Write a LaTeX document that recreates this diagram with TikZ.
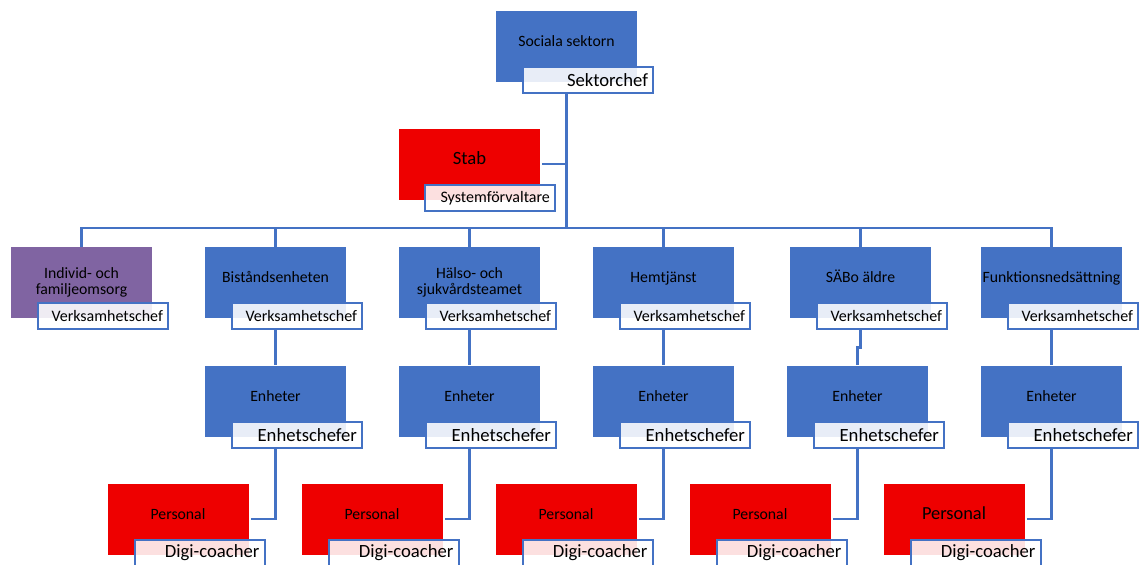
\documentclass[tikz,border=0pt]{standalone}
\usepackage{fontspec}
\setmainfont{Carlito}
\usetikzlibrary{calc}
\definecolor{orgblue}{HTML}{4472C4}
\definecolor{orgred}{HTML}{EE0000}
\definecolor{orgpurple}{HTML}{8064A2}
\tikzset{
    unit/.style={fill=orgblue, minimum width=105.75pt, minimum height=53.25pt,
        inner sep=0pt, text=black, align=center,
        font=\fontsize{11.8}{12.2}\selectfont},
    oneline/.style={text height=6pt, text depth=6pt},
    chef/.style={draw=orgblue, line width=1.5pt, fill=white, fill opacity=0.88,
        text opacity=1, text=black, minimum height=19.5pt, text width=89.5pt,
        inner xsep=4pt, inner ysep=0pt, align=right, anchor=east,
        font=\fontsize{14}{16}\selectfont},
    smallchef/.style={chef, font=\fontsize{12}{14}\selectfont},
    link/.style={draw=orgblue, line width=2pt},
}
\begin{document}
\begin{tikzpicture}[x=0.75pt, y=-0.75pt]
        \useasboundingbox (0,0) rectangle (1144,564);
        \coordinate (bus) at (0,228);

        \node[unit, oneline] (sek) at (566.5,46) {Sociala sektorn};
        \node[chef] (sekchef) at ($(sek.south east)+(17,-2)$) {Sektorchef};

        \node[unit, oneline, fill=orgred, font=\fontsize{14}{16}\selectfont] (stab) at (469.5,164) {Stab};
        \node[smallchef] (stabchef) at ($(stab.south east)+(16,-2)$) {Systemförvaltare};

        \node[unit, fill=orgpurple] (c1) at (81.5,282.5) {Individ- och\\familjeomsorg};
        \node[unit, oneline] (c2) at (275.5,282.5) {Biståndsenheten};
        \node[unit] (c3) at (469.5,282.5) {Hälso- och\\sjukvårdsteamet};
        \node[unit, oneline] (c4) at (663.5,282.5) {Hemtjänst};
        \node[unit, oneline] (c5) at (860.5,282.5) {SÄBo äldre};
        \node[unit, oneline] (c6) at (1051.5,282.5) {Funktionsnedsättning};
        \foreach \i in {1,...,6}
        \node[smallchef] (vc\i) at ($(c\i.south east)+(17,-2)$) {Verksamhetschef};

        \foreach \i/\fs in {2/11.8, 3/11.8, 4/11.8, 5/11.8, 6/13.8} {
            \node[unit, oneline] (e\i) at (275.5+194*\i-388,401) {Enheter};
            \node[chef] (ec\i) at ($(e\i.south east)+(17,-2)$) {Enhetschefer};
            \node[unit, oneline, fill=orgred, font=\fontsize{\fs}{\fs}\selectfont] (p\i) at (178+194*\i-388,519) {Personal};
            \node[chef] (pc\i) at ($(p\i.south east)+(17,-2)$) {Digi-coacher};
            \draw[link] (e\i.south |- ec\i.south) |- ([xshift=2pt]p\i.east);
        }

        \draw[link] (sek.south |- sekchef.south) -- (bus -| sek.south);
        \draw[link] ([xshift=1.5pt]stab.east) -- (stab.east -| sek.south);
        \draw[link] (c1.north) -- (bus -| c1.north) -- (bus -| c6.north) -- (c6.north);
        \foreach \i in {2,...,5}
        \draw[link] (bus -| c\i.north) -- (c\i.north);
        \foreach \i in {2,3,4,6}
        \draw[link] (c\i.south |- vc\i.south) -- (e\i.north);
        \draw[link] (c5.south |- vc5.south) -- ++(0,17) -| (e5.north);
\end{tikzpicture}
\end{document}
